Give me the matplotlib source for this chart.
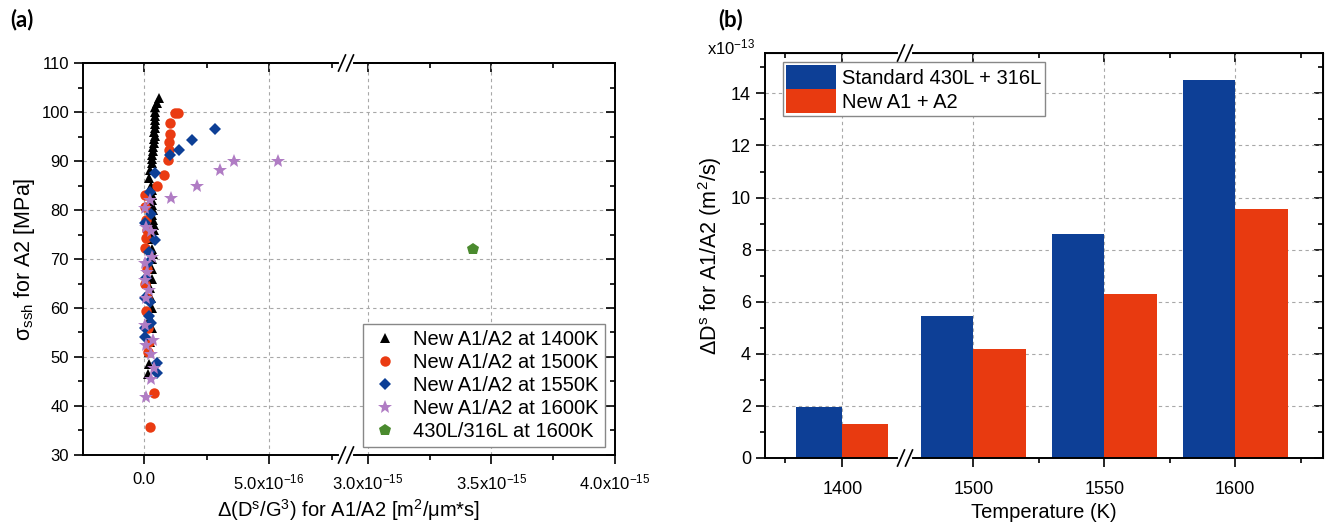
import numpy as np
import matplotlib
matplotlib.use('Agg')
import matplotlib.pyplot as plt
from matplotlib.lines import Line2D

plt.rcParams['font.family'] = ['Liberation Sans', 'DejaVu Sans']
plt.rcParams['mathtext.fontset'] = 'custom'
plt.rcParams['mathtext.rm'] = 'Liberation Sans'
plt.rcParams['mathtext.it'] = 'Liberation Sans:italic'
plt.rcParams['mathtext.bf'] = 'Liberation Sans:bold'

# ---- panel (a) data: x in units of 1e-16, y in MPa ----
x_1400 = [0.58, 0.5, 0.45, 0.45, 0.42, 0.45, 0.42, 0.45, 0.4, 0.42, 0.38, 0.4, 0.36, 0.35,
          0.3, 0.32, 0.3, 0.25, 0.2, 0.28, 0.3, 0.3, 0.32, 0.3, 0.35, 0.32, 0.35, 0.38,
          0.38, 0.35, 0.3, 0.3, 0.35, 0.3, 0.32, 0.3, 0.25, 0.28, 0.3, 0.25, 0.3, 0.25,
          0.2, 0.2, 0.15]
y_1400 = [102.8, 101.8, 101.0, 100.0, 99.2, 98.4, 97.6, 96.8, 96.0, 95.2, 94.4, 93.6, 92.8, 92.0,
          91.2, 90.4, 89.6, 88.2, 86.5, 85.0, 84.0, 83.0, 82.0, 81.0, 80.0, 79.0, 78.0, 77.0,
          76.0, 75.0, 74.0, 72.0, 71.0, 70.0, 68.0, 66.0, 64.0, 62.0, 60.0, 58.0, 56.0, 53.0,
          51.0, 48.5, 46.5]

x_1500 = [1.23, 1.36, 1.05, 1.05, 1.0, 0.99, 0.96, 0.8, 0.52, 0.05, 0.03, 0.09, 0.1, 0.07,
          0.03, 0.12, 0.05, 0.1, 0.09, 0.15, 0.2, 0.16, 0.4, 0.25]
y_1500 = [99.7, 99.7, 97.8, 95.6, 93.9, 92.2, 90.3, 87.1, 85.0, 83.1, 80.7, 78.0, 76.0, 74.2,
          72.3, 68.0, 65.0, 62.0, 59.3, 56.0, 53.0, 51.1, 42.6, 35.7]

x_1550 = [2.85, 1.92, 1.4, 1.03, 0.45, 0.25, 0.27, 0.05, 0.43, 0.19, 0.16, 0.07, 0.03, 0.23,
          0.2, 0.27, 0.03, 0.05, 0.53, 0.53]
y_1550 = [96.5, 94.3, 92.2, 91.2, 87.6, 83.7, 79.1, 77.3, 73.9, 71.5, 69.1, 66.1, 62.0, 61.3,
          58.4, 57.0, 55.9, 54.1, 48.7, 46.7]

x_1600 = [5.36, 3.59, 3.03, 2.13, 1.07, 0.25, 0.03, 0.09, 0.29, 0.33, 0.03, 0.12, 0.05, 0.19,
          0.09, 0.05, 0.36, 0.09, 0.29, 0.4, 0.27, 0.07]
y_1600 = [89.9, 89.9, 88.2, 84.9, 82.5, 82.0, 80.4, 76.6, 75.7, 70.5, 69.1, 67.4, 65.7, 63.7,
          62.0, 56.5, 53.5, 52.4, 50.6, 47.7, 45.6, 41.9]

x_std = [34.26]
y_std = [72.0]

labels_a = ['New A1/A2 at 1400K', 'New A1/A2 at 1500K', 'New A1/A2 at 1550K',
            'New A1/A2 at 1600K', '430L/316L at 1600K']

# ---- panel (b) data ----
temps = ['1400', '1500', '1550', '1600']
standard = [1.95, 5.45, 8.6, 14.5]
new = [1.3, 4.2, 6.3, 9.55]
labels_b = ['Standard 430L + 316L', 'New A1 + A2']

W, H = 1331, 528


def fx(px):
    return px / W


def fy(py):
    return 1 - py / H


fig = plt.figure(figsize=(W / 100, H / 100), dpi=100)

ax1 = fig.add_axes([fx(83), fy(455), fx(346) - fx(83), fy(63) - fy(455)])
ax2 = fig.add_axes([fx(346), fy(455), fx(615) - fx(346), fy(63) - fy(455)])
ax3 = fig.add_axes([fx(765), fy(458), fx(1323) - fx(765), fy(53) - fy(458)])

grid_kw = dict(color='#a8a8a8', linestyle=(0, (3, 3)), linewidth=0.8)
tick_fs = 12


def set_ticks_style(ax, axis, direction, **kw):
    ax.tick_params(axis=axis, which='both', direction=direction, width=1.2, **kw)
    ax.tick_params(axis=axis, which='major', length=6.5)
    ax.tick_params(axis=axis, which='minor', length=3.5)


series = [(x_1400, y_1400, '^', 'black', 7.5),
          (x_1500, y_1500, 'o', '#ea3b12', 7.5),
          (x_1550, y_1550, 'D', '#0d3f96', 6.5),
          (x_1600, y_1600, '*', '#b07cc4', 10),
          (x_std, y_std, 'p', '#4a8a2e', 9)]
handles = []
for (xs, ys, m, c, ms), lab in zip(series, labels_a):
    for ax in (ax1, ax2):
        h, = ax.plot(np.array(xs) * 1e-16, ys, linestyle='none', marker=m, color=c,
                     markersize=ms, markeredgewidth=0, label=lab, zorder=3)
    handles.append(h)

ax1.set_xlim(-2.44e-16, 8.08e-16)
ax2.set_xlim(2.911e-15, 4.0e-15)
for ax in (ax1, ax2):
    ax.set_ylim(30, 110)
    ax.set_yticks(np.arange(30, 111, 10))
    ax.set_yticks(np.arange(35, 110, 10), minor=True)
    for s in ax.spines.values():
        s.set_linewidth(1.4)
ax1.spines['right'].set_visible(False)
ax2.spines['left'].set_visible(False)

ax1.set_xticks([0, 5e-16])
ax1.set_xticks([2.5e-16, 7.5e-16], minor=True)
ax1.set_xticklabels(['0.0', r'5.0x10$^{-16}$'])
ax2.set_xticks([3.0e-15, 3.5e-15, 4.0e-15])
ax2.set_xticks([3.25e-15, 3.75e-15], minor=True)
ax2.set_xticklabels([r'3.0x10$^{-15}$', r'3.5x10$^{-15}$', r'4.0x10$^{-15}$'])

ax1.yaxis.set_ticks_position('left')
ax1.xaxis.set_ticks_position('bottom')
ax2.xaxis.set_ticks_position('bottom')
ax2.yaxis.set_ticks_position('right')
set_ticks_style(ax1, 'both', 'out', labelsize=tick_fs)
ax1.tick_params(axis='x', which='both', pad=6)
set_ticks_style(ax2, 'x', 'out', labelsize=tick_fs, pad=6)
set_ticks_style(ax2, 'y', 'in', labelright=False)

for ax in (ax1, ax2):
    sec = ax.secondary_xaxis('top')
    sec.set_xticks(ax.get_xticks())
    sec.set_xticks(ax.get_xticks(minor=True), minor=True)
    set_ticks_style(sec, 'x', 'in', labeltop=False)
    sec.spines['top'].set_linewidth(1.4)
    ax.grid(True, **grid_kw)
    ax.set_axisbelow(True)

ax1.set_ylabel(r'σ$_{\mathrm{ssh}}$ for A2 [MPa]', fontsize=15.5, labelpad=3)
fig.text(fx(349), fy(510), r'Δ(D$^{\mathrm{s}}$/G$^{3}$) for A1/A2 [m$^{2}$/μm*s]',
         fontsize=14.5, ha='center', va='center')

leg = ax2.legend(handles, labels_a, loc='lower right', fontsize=14.5, frameon=True,
                 fancybox=False, edgecolor='#888888', framealpha=1,
                 bbox_to_anchor=(fx(605), fy(447)), bbox_transform=fig.transFigure,
                 borderaxespad=0, labelspacing=0.2, handletextpad=0.6, handlelength=1.6,
                 borderpad=0.3)
leg.get_frame().set_linewidth(1.0)

# ---- panel (b) ----
pos = np.arange(len(temps))
widths = np.array([0.35, 0.4, 0.4, 0.4])
minor_b = [-0.435, 1.5, 2.5, 3.5]
ax3.bar(pos, standard, width=-widths, align='edge', color='#0d3f96', zorder=2,
        label=labels_b[0])
ax3.bar(pos, new, width=widths, align='edge', color='#e83a10', zorder=2,
        label=labels_b[1])
ax3.set_xlim(-0.59, 3.67)
ax3.set_ylim(0, 15.55)
ax3.set_xticks(pos)
ax3.set_xticklabels(temps)
ax3.set_xticks(minor_b, minor=True)
ax3.set_yticks(np.arange(0, 15, 2))
ax3.set_yticks(np.arange(1, 16, 2), minor=True)
ax3.xaxis.set_ticks_position('bottom')
ax3.yaxis.set_ticks_position('left')
set_ticks_style(ax3, 'both', 'out', labelsize=13)
ax3.tick_params(axis='x', which='both', pad=10)
for s in ax3.spines.values():
    s.set_linewidth(1.4)
secx = ax3.secondary_xaxis('top')
secx.set_xticks(pos)
secx.set_xticks(minor_b, minor=True)
set_ticks_style(secx, 'x', 'in', labeltop=False)
secy = ax3.secondary_yaxis('right')
secy.set_yticks(np.arange(0, 15, 2))
secy.set_yticks(np.arange(1, 16, 2), minor=True)
set_ticks_style(secy, 'y', 'in', labelright=False)
ax3.grid(True, **grid_kw)
ax3.set_axisbelow(True)
ax3.set_xlabel('Temperature (K)', fontsize=14.5, labelpad=4)
ax3.set_ylabel(r'ΔD$^{\mathrm{s}}$ for A1/A2 (m$^{2}$/s)', fontsize=15.5, labelpad=5)
fig.text(fx(731), fy(47), r'x10$^{-13}$', fontsize=12, ha='center', va='center')

leg2 = ax3.legend(loc='upper left', fontsize=14.5, frameon=True, fancybox=False,
                  edgecolor='#888888', framealpha=1,
                  bbox_to_anchor=(fx(783), fy(62)), bbox_transform=fig.transFigure,
                  borderaxespad=0, labelspacing=0.0, handlelength=2.5, handleheight=1.45,
                  handletextpad=0.3, borderpad=0.15)
leg2.get_frame().set_linewidth(1.0)


def axis_break(xc, yc):
    fig.add_artist(Line2D([fx(xc - 5), fx(xc + 5)], [fy(yc), fy(yc)], color='white',
                          linewidth=3, transform=fig.transFigure, zorder=10))
    for dx in (-4, 4):
        fig.add_artist(Line2D([fx(xc + dx - 3.5), fx(xc + dx + 3.5)], [fy(yc + 8), fy(yc - 8)],
                              color='black', linewidth=1.2, transform=fig.transFigure,
                              zorder=11))


axis_break(346, 63)
axis_break(346, 455)
axis_break(905, 53)
axis_break(905, 458)

fig.text(fx(10), fy(20), '(a)', fontsize=16, fontweight='bold', family='Lato',
         va='center', ha='left')
fig.text(fx(718), fy(20), '(b)', fontsize=16, fontweight='bold', family='Lato',
         va='center', ha='left')

fig.savefig('out.png', dpi=100)
